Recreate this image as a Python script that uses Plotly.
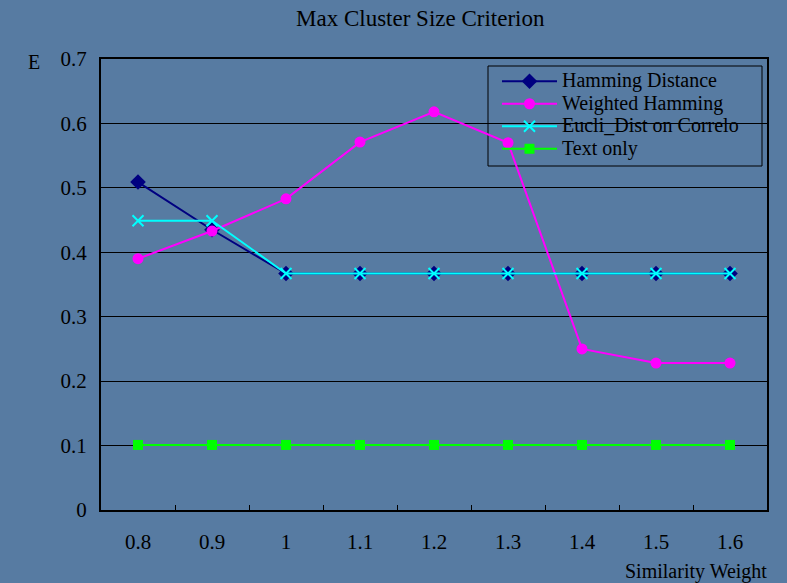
import plotly.graph_objects as go

categories = ["0.8", "0.9", "1", "1.1", "1.2", "1.3", "1.4", "1.5", "1.6"]
hamming = [0.509, 0.435, 0.367, 0.367, 0.367, 0.367, 0.367, 0.367, 0.367]
weighted = [0.390, 0.433, 0.483, 0.571, 0.618, 0.570, 0.250, 0.228, 0.228]
eucli = [0.449, 0.449, 0.367, 0.367, 0.367, 0.367, 0.367, 0.367, 0.367]
text_only = [0.101, 0.101, 0.101, 0.101, 0.101, 0.101, 0.101, 0.101, 0.101]
series_names = ["Hamming Distance", "Weighted Hamming", "Eucli_Dist on Correlo", "Text only"]
y_ticks = [0, 0.1, 0.2, 0.3, 0.4, 0.5, 0.6, 0.7]
y_tick_labels = ["0", "0.1", "0.2", "0.3", "0.4", "0.5", "0.6", "0.7"]

BG = "#577ba2"
FONT = "Liberation Serif"
L, R, T, B = 101, 767, 59, 510
PW, PH = R - L, B - T


def px(x):
    return (x - L) / PW


def py(y):
    return (B - y) / PH


def lname(s):
    return '<span style="font-size:20px">' + s + '</span>'


fig = go.Figure()
fig.add_trace(go.Scatter(x=categories, y=hamming, name=lname(series_names[0]), mode="lines+markers",
                         line=dict(color="#000080", width=2),
                         marker=dict(symbol="diamond", size=12, color="#000080")))
fig.add_trace(go.Scatter(x=categories, y=weighted, name=lname(series_names[1]), mode="lines+markers",
                         line=dict(color="#ff00ff", width=2),
                         marker=dict(symbol="circle", size=11, color="#ff00ff")))
fig.add_trace(go.Scatter(x=categories, y=eucli, name=lname(series_names[2]), mode="lines+markers",
                         line=dict(color="#00ffff", width=2),
                         marker=dict(symbol="x-thin", size=11, color="#00ffff",
                                     line=dict(color="#00ffff", width=2))))
fig.add_trace(go.Scatter(x=categories, y=text_only, name=lname(series_names[3]), mode="lines+markers",
                         line=dict(color="#00ff00", width=2),
                         marker=dict(symbol="square", size=10, color="#00ff00")))

fig.update_layout(
    width=787, height=583,
    margin=dict(l=L, r=787 - R, t=T, b=583 - B),
    paper_bgcolor=BG, plot_bgcolor=BG,
    font=dict(family=FONT, size=21, color="#000000"),
    showlegend=True,
    legend=dict(x=px(497), y=py(65), xanchor="left", yanchor="top",
                bgcolor="rgba(0,0,0,0)", borderwidth=0,
                font=dict(family=FONT, size=15, color="#000000"),
                tracegroupgap=0, itemwidth=55),
    shapes=[
        dict(type="rect", xref="paper", yref="paper", layer="between",
             x0=px(488), x1=px(762), y0=py(166), y1=py(66),
             fillcolor=BG, line=dict(color="#000000", width=1)),
    ],
    annotations=[
        dict(text="Max Cluster Size Criterion", xref="paper", yref="paper",
             x=px(420), y=py(18), xanchor="center", yanchor="middle",
             showarrow=False, font=dict(family=FONT, size=23)),
        dict(text="E", xref="paper", yref="paper",
             x=px(34), y=py(62), xanchor="center", yanchor="middle",
             showarrow=False, font=dict(family=FONT, size=20)),
        dict(text="Similarity Weight", xref="paper", yref="paper",
             x=px(769), y=py(571), xanchor="right", yanchor="middle",
             showarrow=False, font=dict(family=FONT, size=20)),
    ],
)
fig.update_xaxes(type="category", range=[-0.5, 8.5], showgrid=False,
                 showline=True, linecolor="#000000", linewidth=2, mirror=True,
                 ticks="inside", ticklen=5, tickcolor="#000000", tickson="boundaries",
                 ticklabelstandoff=12, zeroline=False)
fig.update_yaxes(range=[0, 0.7], tickvals=y_ticks, ticktext=y_tick_labels,
                 showgrid=True, gridcolor="#000000", gridwidth=1,
                 showline=True, linecolor="#000000", linewidth=2, mirror=True,
                 ticks="", ticklabelstandoff=8, zeroline=False)

fig.write_html("out.html", config={"displayModeBar": False},
               post_script="document.body.style.margin='0';document.body.style.padding='0';")
